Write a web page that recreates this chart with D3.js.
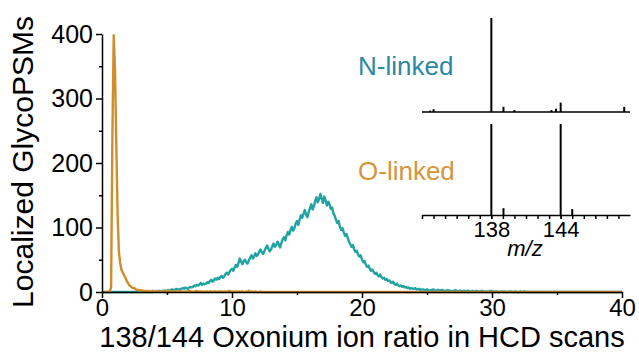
<!DOCTYPE html>
<html>
<head>
<meta charset="utf-8">
<script src="https://cdn.jsdelivr.net/npm/d3@7"></script>
<style>
  body { margin: 0; background: #fff; }
  text { font-family: "Liberation Sans", Arial, sans-serif; }
</style>
</head>
<body>
<svg id="chart" width="639" height="356"></svg>
<script>
(function() {
  // histogram bins, width 0.1 ratio units
  const BIN = 0.1;

  // N-linked counts, first bin at 4.0
  const nStart = 4.0;
  const nCounts = [
    0, 1, 1, 1, 2, 1, 1, 2, 2, 2,
    2, 3, 2, 3, 4, 3, 3, 5, 4, 4,
    4, 5, 6, 5, 7, 6, 5, 7, 8, 7,
    8, 10, 9, 11, 10, 12, 14, 11, 13, 12,
    13, 15, 14, 17, 19, 16, 18, 21, 19, 22,
    20, 23, 25, 22, 24, 28, 30, 27, 31, 34,
    36, 33, 38, 42, 39, 45, 52, 47, 43, 48,
    50, 46, 44, 49, 53, 57, 52, 55, 60, 56,
    58, 63, 66, 61, 59, 64, 68, 72, 67, 63,
    66, 71, 75, 70, 73, 78, 74, 69, 76, 82,
    85, 80, 88, 93, 89, 96, 101, 95, 99, 106,
    110, 104, 112, 119, 115, 121, 127, 120, 116, 124,
    130, 136, 128, 133, 141, 147, 139, 144, 152, 145,
    138, 148, 142, 134, 140, 136, 129, 131, 122, 118,
    112, 107, 110, 101, 96, 99, 92, 87, 90, 84,
    78, 74, 70, 73, 66, 62, 64, 58, 55, 57,
    50, 46, 48, 42, 39, 41, 36, 33, 35, 31,
    28, 30, 26, 24, 27, 23, 21, 22, 19, 20,
    17, 18, 15, 14, 16, 12, 11, 13, 10, 9,
    10, 8, 9, 7, 8, 6, 7, 5, 6, 5,
    5, 6, 4, 4, 5, 3, 4, 4, 3, 3,
    4, 3, 2, 3, 3, 4, 2, 2, 3, 3,
    2, 3, 3, 2, 2, 2, 3, 2, 2, 1,
    2, 2, 3, 2, 1, 2, 2, 1, 2, 2,
    1, 2, 2, 1, 1, 2, 1, 1, 2, 1,
    1, 1, 2, 1, 1, 1, 0, 1, 1, 2,
    1, 1, 0, 1, 1, 0, 0, 1, 1, 0,
    1, 0, 0, 1, 0, 1, 0, 0, 1, 0,
    0, 0, 1, 0, 0, 1, 0, 0, 0, 0
  ];

  // O-linked counts, first bin at 0.5
  const oStart = 0.5;
  const oCounts = [
    0, 0, 8, 240, 398, 345, 230, 120, 62, 45,
    34, 30, 26, 22, 17, 14, 10, 9, 7, 6,
    6, 4, 3, 3, 2, 3, 2, 2, 1, 2,
    1, 2, 1, 1, 2, 1, 1, 2, 1, 1,
    0, 1, 1, 2, 1, 1, 2, 1, 1, 0,
    1, 2, 1, 1, 1, 2, 1, 1, 0, 1,
    1, 1, 2, 1, 1, 0, 1, 1, 2, 1,
    1, 1, 0, 1, 0, 1, 1, 0, 1, 1,
    0, 1, 1, 0, 1, 0, 1, 1, 0, 1,
    1, 0, 1, 2, 1, 0, 1, 0, 1, 1,
    0, 1, 0, 1, 0, 0, 1, 0, 2, 0,
    1, 0, 0, 1, 0, 0, 0, 1, 0, 0
  ];

  const xTicks = [0, 10, 20, 30, 40];
  const xMinor = [5, 15, 25, 35];
  const yTicks = [0, 100, 200, 300, 400];
  const yMinor = [50, 150, 250, 350];

  // inset spectra (m/z, relative intensity)
  const nPeakMz = [132.7, 133.0, 138.0, 139.05, 140.0, 143.2, 143.6, 144.0, 149.5];
  const nPeakInt = [1.5, 3, 100, 5.5, 2, 2, 3.5, 10, 5.5];
  const oPeakMz = [138.0, 139.05, 144.0, 145.0];
  const oPeakInt = [100, 7.5, 100, 6.5];
  const mzLabels = [138, 144];
  const mzMinor = d3.range(132, 150);

  const TEAL = '#20a3a3';
  const ORANGE = '#d18d2c';

  const svg = d3.select('#chart');

  const x = d3.scaleLinear().domain([0, 40]).range([102, 622]);
  const y = d3.scaleLinear().domain([0, 400]).range([292, 34]);

  const toPoints = (start, counts) =>
    [[0, 0]].concat(counts.map((c, i) => [start + i * BIN, c]), [[40, 0]]);

  const line = d3.line().x(d => x(d[0])).y(d => y(d[1]));

  svg.append('path')
    .datum(toPoints(nStart, nCounts))
    .attr('d', line)
    .attr('fill', 'none')
    .attr('stroke', TEAL)
    .attr('stroke-width', 2.4)
    .attr('stroke-linejoin', 'round');

  svg.append('path')
    .datum(toPoints(oStart, oCounts))
    .attr('d', line)
    .attr('fill', 'none')
    .attr('stroke', ORANGE)
    .attr('stroke-width', 2.4)
    .attr('stroke-linejoin', 'round');

  // main axes
  const styleAxis = (g, size) => {
    g.selectAll('path, line').attr('stroke', '#000').attr('stroke-width', 1.5);
    g.selectAll('text').attr('font-size', size).attr('fill', '#000')
      .style('font-family', '"Liberation Sans", Arial, sans-serif');
  };

  svg.append('g')
    .attr('transform', 'translate(102,0)')
    .call(d3.axisLeft(y).tickValues(yTicks).tickSize(6).tickSizeOuter(0).tickPadding(3))
    .call(g => styleAxis(g, 25));

  svg.append('g')
    .attr('transform', 'translate(102,0)')
    .call(d3.axisLeft(y).tickValues(yMinor).tickSize(3).tickFormat(''))
    .call(g => g.select('.domain').remove())
    .call(g => styleAxis(g, 0));

  svg.append('g')
    .attr('transform', 'translate(0,292)')
    .call(d3.axisBottom(x).tickValues(xTicks).tickSize(6).tickSizeOuter(0).tickPadding(1))
    .call(g => styleAxis(g, 24));

  svg.append('g')
    .attr('transform', 'translate(0,292)')
    .call(d3.axisBottom(x).tickValues(xMinor).tickSize(3).tickFormat(''))
    .call(g => g.select('.domain').remove())
    .call(g => styleAxis(g, 0));

  svg.append('text')
    .attr('transform', 'translate(33,162) rotate(-90)')
    .attr('text-anchor', 'middle')
    .attr('font-size', 30)
    .text('Localized GlycoPSMs');

  svg.append('text')
    .attr('x', 362)
    .attr('y', 347)
    .attr('text-anchor', 'middle')
    .attr('font-size', 29)
    .text('138/144 Oxonium ion ratio in HCD scans');

  // inset spectra
  const mz = d3.scaleLinear().domain([132, 150]).range([422, 630]);
  const nBase = 112, oBase = 215;
  const yN = d3.scaleLinear().domain([0, 100]).range([nBase, 18]);
  const yO = d3.scaleLinear().domain([0, 100]).range([oBase, 124]);

  const drawPeaks = (mzs, ints, ys, base) => {
    svg.append('g')
      .selectAll('line')
      .data(mzs)
      .enter()
      .append('line')
      .attr('x1', d => mz(d))
      .attr('x2', d => mz(d))
      .attr('y1', base)
      .attr('y2', (d, i) => ys(ints[i]))
      .attr('stroke', '#000')
      .attr('stroke-width', 2);
  };

  drawPeaks(nPeakMz, nPeakInt, yN, nBase);
  drawPeaks(oPeakMz, oPeakInt, yO, oBase);

  svg.append('line')
    .attr('x1', mz(132)).attr('x2', mz(150))
    .attr('y1', nBase).attr('y2', nBase)
    .attr('stroke', '#000').attr('stroke-width', 1.5);

  svg.append('g')
    .attr('transform', `translate(0,${oBase})`)
    .call(d3.axisBottom(mz).tickValues(mzMinor).tickSize(4).tickSizeOuter(0).tickFormat(''))
    .call(g => styleAxis(g, 0));

  svg.append('g')
    .attr('transform', `translate(0,${oBase})`)
    .call(d3.axisBottom(mz).tickValues(mzLabels).tickSize(4).tickPadding(2).tickFormat(d3.format('d')))
    .call(g => g.select('.domain').remove())
    .call(g => styleAxis(g, 22));

  svg.append('text')
    .attr('x', 525)
    .attr('y', 256)
    .attr('text-anchor', 'middle')
    .attr('font-size', 22)
    .attr('font-style', 'italic')
    .text('m/z');

  svg.append('text')
    .attr('x', 358)
    .attr('y', 75)
    .attr('font-size', 26)
    .attr('fill', '#2b88a3')
    .text('N-linked');

  svg.append('text')
    .attr('x', 358)
    .attr('y', 180)
    .attr('font-size', 26)
    .attr('fill', '#d4953b')
    .text('O-linked');
})();
</script>
</body>
</html>
